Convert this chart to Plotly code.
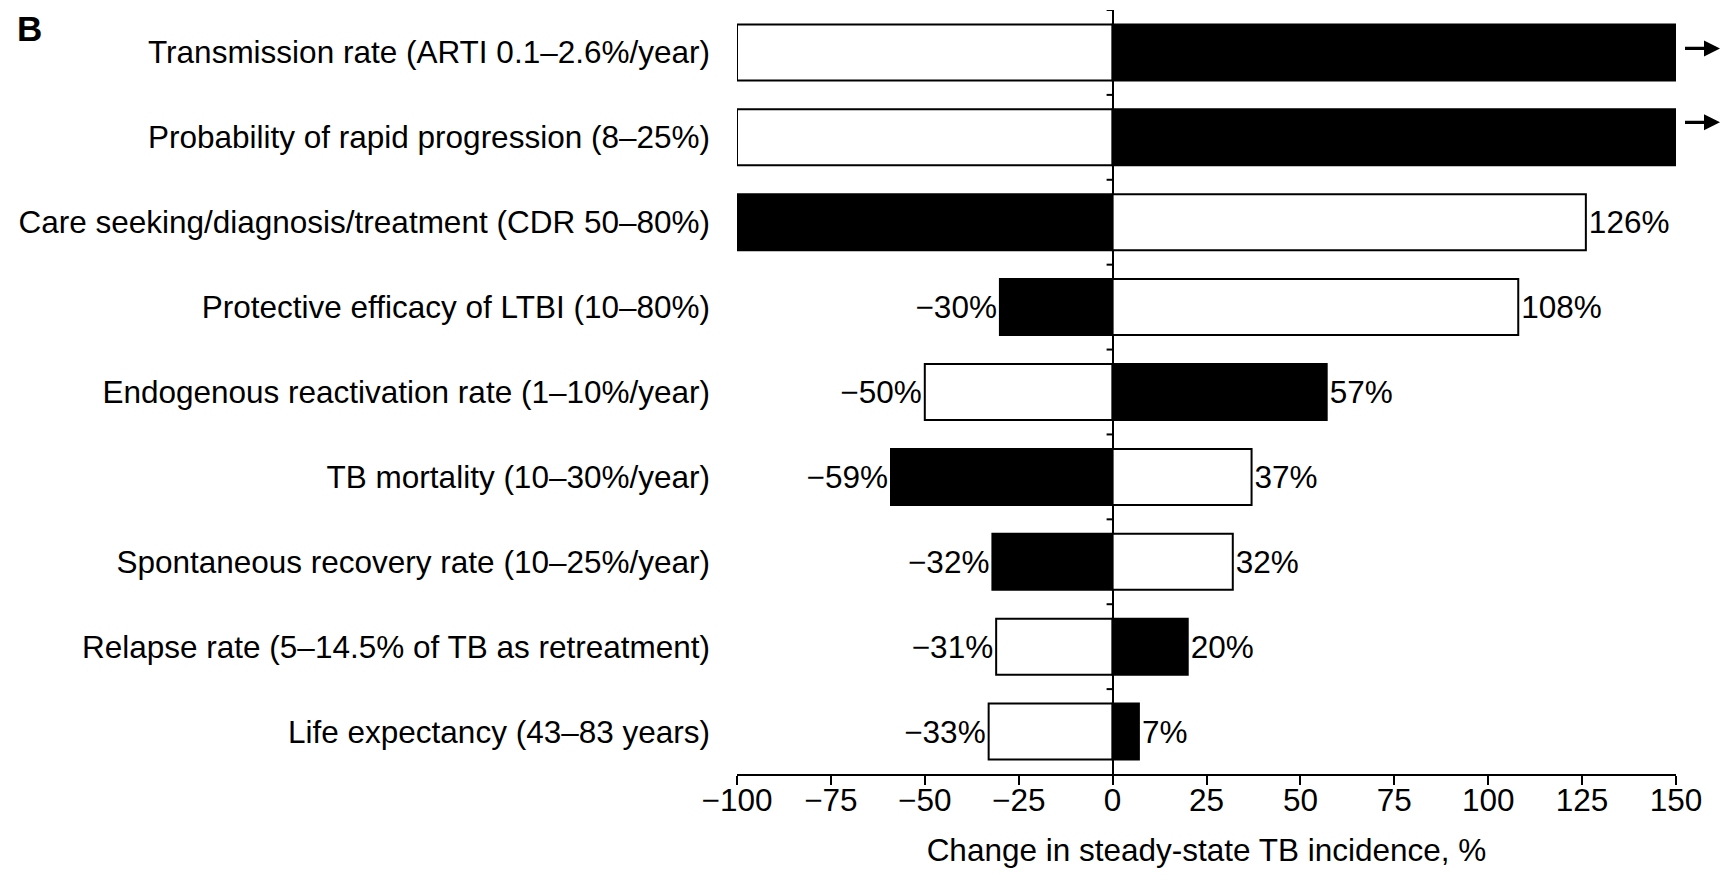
import plotly.graph_objects as go

categories = [
    "Transmission rate (ARTI 0.1–2.6%/year)",
    "Probability of rapid progression (8–25%)",
    "Care seeking/diagnosis/treatment (CDR 50–80%)",
    "Protective efficacy of LTBI (10–80%)",
    "Endogenous reactivation rate (1–10%/year)",
    "TB mortality (10–30%/year)",
    "Spontaneous recovery rate (10–25%/year)",
    "Relapse rate (5–14.5% of TB as retreatment)",
    "Life expectancy (43–83 years)",
]
low_values = [-100, -100, -100, -30, -50, -59, -32, -31, -33]
high_values = [150, 150, 126, 108, 57, 37, 32, 20, 7]
low_black = [False, False, True, True, False, True, True, False, False]
high_black = [True, True, False, False, True, False, False, True, True]
low_labelled = [False, False, False, True, True, True, True, True, True]
high_labelled = [False, False, True, True, True, True, True, True, True]
off_scale = [True, True, False, False, False, False, False, False, False]
arrow_yshift = [4, 15, 0, 0, 0, 0, 0, 0, 0]
x_ticks = [-100, -75, -50, -25, 0, 25, 50, 75, 100, 125, 150]
X_MIN, X_MAX = -100, 150

FONT = "Liberation Sans"
FS = 31.5

def fmt(v):
    return ("−" if v < 0 else "") + f"{abs(v)}%"

fig = go.Figure()
for vals, blk, lab in [(low_values, low_black, low_labelled), (high_values, high_black, high_labelled)]:
    fig.add_trace(go.Bar(
        y=categories, x=vals, orientation="h", base=0,
        marker=dict(color=["black" if b else "white" for b in blk],
                    line=dict(color="black", width=2)),
        width=0.66,
        text=[fmt(v) if l else "" for v, l in zip(vals, lab)],
        textposition="outside", cliponaxis=False,
        textfont=dict(family=FONT, size=FS, color="black"),
        hoverinfo="skip", showlegend=False,
    ))

# arrows for off-scale bars (placed beyond the axis end)
n = len(categories)
for i, (v, o, ys) in enumerate(zip(high_values, off_scale, arrow_yshift)):
    if o:
        head = (v + 12 - X_MIN) / (X_MAX - X_MIN)
        tail_px = -10 * (1676 - 737) / (X_MAX - X_MIN)
        yp = 1 - (i + 0.5) / n
        fig.add_annotation(x=head, y=yp, xref="paper", yref="paper",
                           ax=tail_px, ay=0, showarrow=True, arrowhead=2,
                           arrowsize=1.0, arrowwidth=3.2, arrowcolor="black",
                           text="", yshift=ys)

# small boundary ticks on zero line
for i in range(n):
    yb = i - 0.5
    fig.add_shape(type="line", xref="x", yref="y", x0=-1.6, x1=0, y0=yb, y1=yb,
                  line=dict(color="black", width=2))

fig.add_annotation(text="<b>B</b>", x=-0.768, y=1.0, xref="paper", yref="paper",
                   xanchor="left", yanchor="top", showarrow=False, yshift=2,
                   borderpad=0,
                   font=dict(family=FONT, size=35, color="black"))

fig.update_layout(
    width=1713, height=860,
    margin=dict(l=729, r=45, t=2, b=94),
    plot_bgcolor="white", paper_bgcolor="white",
    barmode="overlay",
    font=dict(family=FONT, size=FS, color="black"),
    xaxis=dict(range=[X_MIN, X_MAX], tickvals=x_ticks,
               ticktext=[("−" if t < 0 else "") + str(abs(t)) for t in x_ticks],
               showgrid=False, showline=True, linecolor="black", linewidth=2,
               ticks="outside", ticklen=9, tickwidth=2, tickcolor="black",
               ticklabelstandoff=-12,
               zeroline=True, zerolinecolor="black", zerolinewidth=2,
               title=dict(text="Change in steady-state TB incidence, %", standoff=33,
                          font=dict(family=FONT, size=FS)),
               tickfont=dict(family=FONT, size=FS), automargin=False),
    yaxis=dict(categoryorder="array", categoryarray=categories,
               range=[n - 0.5, -0.5], showgrid=False, showline=False,
               ticks="", ticklabelstandoff=26, tickfont=dict(family=FONT, size=FS),
               automargin=False),
)

fig.write_html("out.html")
